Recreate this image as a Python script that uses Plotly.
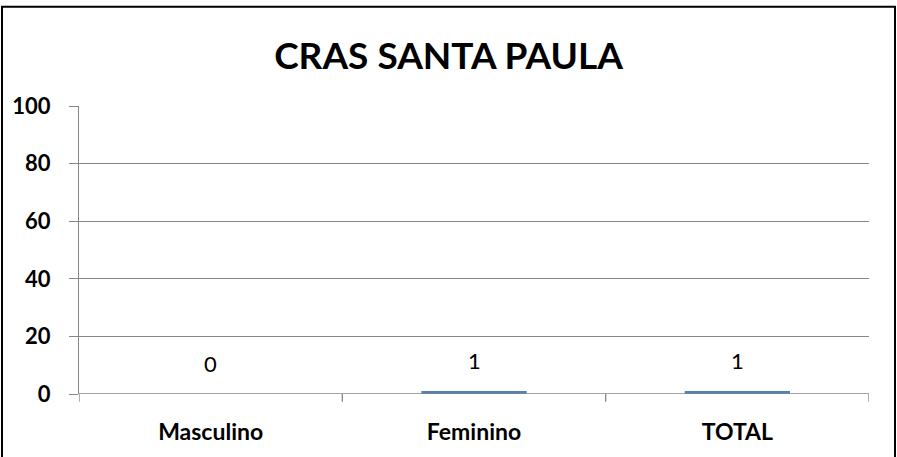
import plotly.graph_objects as go

categories = ["Masculino", "Feminino", "TOTAL"]
values = [0, 1, 1]
y_ticks = [0, 20, 40, 60, 80, 100]
title_text = "CRAS SANTA PAULA"

W, H = 897, 457
ml, mr, mt, mb = 79, 28, 106, 55
pw = W - ml - mr
ph = H - mt - mb
FONT = "Lato, Carlito, sans-serif"

fig = go.Figure()
fig.add_trace(go.Bar(
    x=list(range(len(categories))), y=values,
    marker=dict(color="#4F81BD", line=dict(width=0)),
    width=0.4,
))
for i, v in enumerate(values):
    fig.add_annotation(x=i, y=v, text=str(v), showarrow=False, yshift=31,
                       font=dict(family=FONT, size=22, color="#000000"))

grid = "#868686"
fig.update_layout(
    width=W, height=H,
    margin=dict(l=ml, r=mr, t=mt, b=mb),
    paper_bgcolor="white", plot_bgcolor="white",
    showlegend=False,
    title=dict(text="<b>" + title_text + "</b>", x=0.5, xanchor="center",
               y=1 - 56 / H, yanchor="middle",
               font=dict(family=FONT, size=37, color="#000000")),
    xaxis=dict(
        range=[-0.5, len(categories) - 0.5],
        tickmode="array", tickvals=list(range(len(categories))),
        ticktext=["<b>" + c + "</b>" for c in categories],
        showgrid=False, zeroline=False, ticks="",
        ticklabelstandoff=22,
        tickfont=dict(family=FONT, size=23, color="#000000"),
        showline=False,
    ),
    yaxis=dict(
        range=[0, 100], tickmode="array", tickvals=y_ticks,
        ticktext=["<b>%d</b>" % t for t in y_ticks],
        showgrid=True, gridcolor=grid, gridwidth=1.3,
        zeroline=False, ticks="outside", ticklen=9, tickcolor=grid, tickwidth=1.3,
        ticklabelstandoff=14,
        showline=True, linecolor=grid, linewidth=1.3,
        tickfont=dict(family=FONT, size=22, color="#000000"),
    ),
    bargap=0.6,
)
# category boundary ticks on x axis
for b in [-0.5, 0.5, 1.5, 2.5]:
    fig.add_shape(type="line", xref="x", yref="paper", x0=b, x1=b, y0=0, y1=-8 / ph,
                  line=dict(color=grid, width=1.3))
fig.add_shape(type="line", xref="paper", yref="y", x0=0, x1=1, y0=0, y1=0,
              line=dict(color=grid, width=1.3))
# outer chart border (bottom edge lies outside the visible area)
fig.add_shape(type="rect", xref="paper", yref="paper",
              x0=(2 - ml) / pw, x1=(895 - ml) / pw,
              y0=-(H + 15 - mt - ph) / ph, y1=1 + (mt - 4) / ph,
              line=dict(color="#000000", width=2), fillcolor="rgba(0,0,0,0)", layer="below")

fig.write_html("out.html", config={"displayModeBar": False},
               post_script="document.body.style.margin='0';document.body.style.overflow='hidden';document.documentElement.style.overflow='hidden';")
